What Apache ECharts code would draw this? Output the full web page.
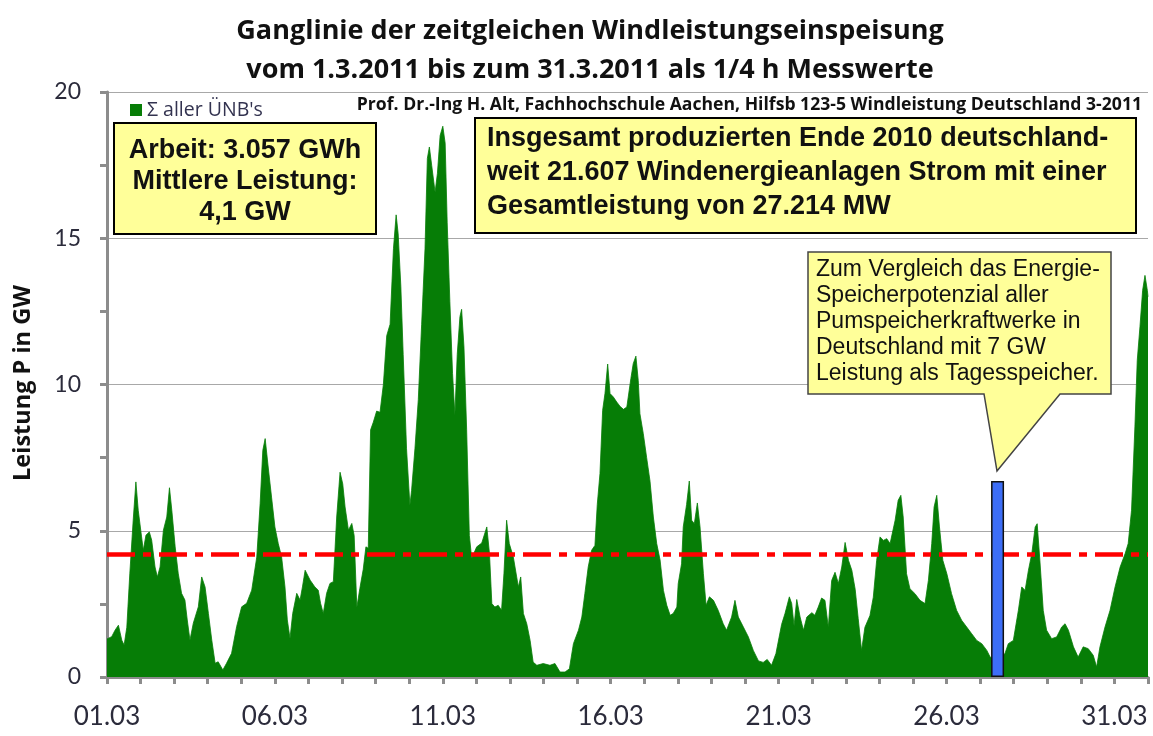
<!DOCTYPE html>
<html>
<head>
<meta charset="utf-8">
<title>Windleistung Maerz 2011</title>
<script src="https://cdn.jsdelivr.net/npm/echarts@6/dist/echarts.min.js"></script>
<style>
  html, body { margin: 0; padding: 0; background: #fff; }
  #chart { width: 1153px; height: 736px; }
</style>
</head>
<body>
<div id="chart"></div>
<script>
// Zeitpunkte in Tagen ab 01.03. 0:00, Leistung in GW
var windSamples = [
  [0, 1.3], [0.14, 1.38], [0.24, 1.6], [0.34, 1.77], [0.44, 1.26], [0.51, 1.09], [0.59, 1.7],
  [0.68, 3.55], [0.78, 5.36], [0.86, 6.67], [0.93, 5.7], [1.03, 4.79], [1.08, 4.33], [1.16, 4.85],
  [1.26, 4.96], [1.33, 4.68], [1.43, 3.76], [1.50, 3.42], [1.58, 3.76], [1.68, 5.02], [1.78, 5.47],
  [1.86, 6.47], [1.93, 5.7], [2.03, 4.45], [2.12, 3.55], [2.22, 2.86], [2.32, 2.63], [2.39, 1.95],
  [2.47, 1.26], [2.57, 1.84], [2.72, 2.4], [2.82, 3.42], [2.92, 3.08], [3.02, 2.17], [3.12, 1.26],
  [3.22, 0.47], [3.31, 0.52], [3.45, 0.24], [3.56, 0.47], [3.71, 0.81], [3.86, 1.72], [4.01, 2.4],
  [4.16, 2.52], [4.31, 2.97], [4.46, 4.1], [4.56, 5.93], [4.64, 7.75], [4.71, 8.15], [4.80, 7.18],
  [4.90, 6.15], [5.00, 5.13], [5.10, 4.56], [5.20, 4.1], [5.30, 3.08], [5.37, 1.95], [5.45, 1.32],
  [5.53, 2.17], [5.65, 2.86], [5.75, 2.63], [5.82, 3.08], [5.90, 3.65], [6.05, 3.31], [6.19, 3.08],
  [6.29, 2.97], [6.36, 2.52], [6.44, 2.17], [6.54, 2.86], [6.64, 3.2], [6.74, 3.26], [6.84, 5.47],
  [6.94, 7.0], [7.02, 6.6], [7.09, 5.81], [7.19, 5.02], [7.29, 5.25], [7.36, 4.84], [7.44, 2.38],
  [7.53, 3.03], [7.63, 3.68], [7.71, 4.45], [7.78, 4.4], [7.85, 8.45], [7.93, 8.71], [8.03, 9.09],
  [8.13, 9.05], [8.23, 10.0], [8.33, 11.67], [8.43, 12.06], [8.53, 14.64], [8.61, 15.8], [8.67, 15.16],
  [8.75, 13.36], [8.82, 11.03], [8.92, 7.8], [9.02, 5.87], [9.07, 6.38], [9.17, 7.8], [9.27, 9.48],
  [9.37, 12.06], [9.47, 14.64], [9.54, 17.73], [9.60, 18.12], [9.67, 17.48], [9.77, 16.57], [9.84, 17.22],
  [9.92, 18.51], [10.00, 18.83], [10.07, 18.25], [10.13, 15.55], [10.21, 12.84], [10.29, 10.38],
  [10.36, 8.96], [10.43, 11.03], [10.51, 12.32], [10.56, 12.57], [10.63, 11.28], [10.71, 8.45],
  [10.79, 4.84], [10.86, 4.06], [11.01, 4.45], [11.16, 4.58], [11.31, 5.13], [11.39, 4.22], [11.46, 2.51],
  [11.55, 2.39], [11.65, 2.45], [11.75, 2.28], [11.82, 3.53], [11.90, 5.36], [11.98, 4.56], [12.10, 4.1],
  [12.25, 3.08], [12.32, 3.42], [12.40, 2.17], [12.50, 1.82], [12.60, 1.25], [12.69, 0.51], [12.80, 0.4],
  [12.99, 0.46], [13.19, 0.4], [13.34, 0.46], [13.49, 0.17], [13.64, 0.17], [13.77, 0.28], [13.89, 1.14],
  [14.04, 1.6], [14.14, 2.05], [14.23, 2.85], [14.33, 3.76], [14.43, 4.33], [14.53, 4.5], [14.60, 5.9],
  [14.68, 6.95], [14.76, 9.12], [14.83, 9.7], [14.91, 10.7], [14.98, 9.69], [15.08, 9.57], [15.18, 9.4],
  [15.28, 9.25], [15.38, 9.15], [15.48, 9.23], [15.52, 9.29], [15.60, 10.2], [15.67, 10.71], [15.75, 10.97],
  [15.82, 10.14], [15.87, 9.0], [15.97, 8.32], [16.07, 7.5], [16.17, 6.7], [16.27, 5.47], [16.37, 4.56],
  [16.47, 4.0], [16.57, 2.96], [16.67, 2.45], [16.77, 2.11], [16.86, 2.17], [16.97, 2.39], [17.01, 3.19],
  [17.11, 3.87], [17.16, 5.13], [17.26, 5.9], [17.34, 6.7], [17.41, 5.36], [17.49, 5.24], [17.58, 5.95],
  [17.66, 5.13], [17.76, 3.53], [17.84, 2.45], [17.94, 2.74], [18.06, 2.62], [18.20, 2.28], [18.35, 1.82],
  [18.45, 1.6], [18.60, 2.05], [18.70, 2.62], [18.80, 2.05], [18.95, 1.71], [19.10, 1.37], [19.25, 0.9],
  [19.40, 0.55], [19.54, 0.5], [19.66, 0.6], [19.79, 0.4], [19.92, 0.8], [20.09, 1.8], [20.19, 2.17],
  [20.32, 2.74], [20.39, 2.51], [20.46, 1.75], [20.54, 2.65], [20.64, 2.05], [20.74, 1.6], [20.84, 2.05],
  [20.99, 2.2], [21.08, 2.11], [21.18, 2.39], [21.28, 2.7], [21.38, 2.62], [21.48, 1.7], [21.58, 3.3],
  [21.68, 3.58], [21.78, 3.2], [21.88, 3.76], [21.98, 4.6], [22.08, 3.99], [22.18, 3.65], [22.28, 3.0],
  [22.37, 2.0], [22.47, 0.91], [22.57, 1.7], [22.72, 2.1], [22.82, 2.73], [22.92, 3.99], [23.02, 4.79],
  [23.12, 4.67], [23.22, 4.73], [23.32, 4.56], [23.37, 4.62], [23.47, 5.36], [23.56, 6.04], [23.64, 6.21],
  [23.71, 5.47], [23.81, 3.53], [23.91, 3.02], [24.06, 2.85], [24.21, 2.62], [24.36, 2.51], [24.46, 3.3],
  [24.56, 4.56], [24.63, 5.81], [24.71, 6.21], [24.79, 5.13], [24.89, 3.99], [25.01, 3.53], [25.15, 2.85],
  [25.30, 2.28], [25.45, 1.94], [25.60, 1.71], [25.75, 1.48], [25.90, 1.25], [26.05, 1.14], [26.20, 0.91],
  [26.30, 0.68], [26.42, 0.6], [26.60, 0.65], [26.74, 0.8], [26.84, 1.14], [26.99, 1.25], [27.14, 2.28],
  [27.24, 3.08], [27.34, 2.96], [27.44, 3.65], [27.54, 4.22], [27.64, 5.13], [27.70, 5.24], [27.78, 3.99],
  [27.88, 2.28], [27.98, 1.6], [28.13, 1.31], [28.28, 1.37], [28.43, 1.71], [28.53, 1.82], [28.63, 1.6],
  [28.78, 1.03], [28.92, 0.68], [29.07, 1.03], [29.22, 0.97], [29.37, 0.74], [29.47, 0.34], [29.57, 1.03],
  [29.72, 1.71], [29.87, 2.28], [30.02, 3.08], [30.17, 3.76], [30.32, 4.22], [30.41, 4.56], [30.51, 5.7],
  [30.61, 8.55], [30.68, 10.83], [30.76, 11.97], [30.84, 13.22], [30.91, 13.73], [30.98, 13.22], [31.0, 13.0]
];

var seriesName = "\u03a3 aller \u00dcNB's";
var meanLineGW = 4.2;           // rote Strich-Punkt-Linie
var storageDay = 26.52;         // blauer Balken: Pumpspeicher
var storageGW = 6.7;

var labelDays = [0, 5, 10, 15, 20, 25, 30];
var dayLabels = ['01.03', '06.03', '11.03', '16.03', '21.03', '26.03', '31.03'];

var titleLines = [
  'Ganglinie der zeitgleichen Windleistungseinspeisung',
  'vom 1.3.2011 bis zum 31.3.2011 als 1/4 h Messwerte'
];
var creditText = 'Prof. Dr.-Ing H. Alt, Fachhochschule Aachen, Hilfsb 123-5 Windleistung Deutschland 3-2011';
var box1Lines = ['Arbeit: 3.057 GWh', 'Mittlere Leistung:', '4,1 GW'];
var box2Lines = [
  'Insgesamt produzierten Ende 2010 deutschland-',
  'weit 21.607 Windenergieanlagen Strom mit einer',
  'Gesamtleistung von 27.214 MW'
];
var calloutLines = [
  'Zum Vergleich das Energie-',
  'Speicherpotenzial aller',
  'Pumspeicherkraftwerke in',
  'Deutschland mit 7 GW',
  'Leistung als Tagesspeicher.'
];

var axisGray = '#8c8c8c';
var windGreen = '#067d06';

function textEl(txt, x, y, font, align, extra) {
  var el = {
    type: 'text', z: 100,
    style: { text: txt, x: x, y: y, font: font, fill: '#111', align: align || 'left', verticalAlign: 'middle' }
  };
  if (extra) { for (var k in extra) el[k] = extra[k]; }
  return el;
}

function buildGraphics() {
  var g = [];
  g.push(textEl(titleLines[0], 590, 31, 'bold 27px "Open Sans"', 'center'));
  g.push(textEl(titleLines[1], 590, 70, 'bold 27px "Open Sans"', 'center'));
  g.push(textEl(creditText, 1142, 105, 'bold 17.6px "Open Sans"', 'right'));
  g.push(textEl('Leistung P in GW', 0, 0, 'bold 23.5px "Open Sans"', 'center', { x: 23, y: 383, rotation: Math.PI / 2 }));

  // Legende
  g.push({ type: 'rect', z: 100, shape: { x: 130, y: 104, width: 12, height: 12 }, style: { fill: windGreen } });
  g.push(textEl(seriesName, 147, 110, '19.5px "Open Sans"', 'left'));
  g[g.length - 1].style.fill = '#333350';

  g.push({ type: 'rect', z: 90, shape: { x: 114, y: 123, width: 262, height: 111 },
    style: { fill: '#ffff99', stroke: '#000', lineWidth: 2 } });
  box1Lines.forEach(function (t, i) {
    g.push(textEl(t, 245, 151 + i * 31, 'bold 27px "Liberation Sans"', 'center'));
  });

  g.push({ type: 'rect', z: 90, shape: { x: 475, y: 118, width: 661, height: 115 },
    style: { fill: '#ffff99', stroke: '#000', lineWidth: 2 } });
  box2Lines.forEach(function (t, i) {
    g.push(textEl(t, 487, 139 + i * 34, 'bold 27px "Liberation Sans"', 'left'));
  });

  g.push({ type: 'polygon', z: 90,
    shape: { points: [[808, 252], [1111, 252], [1111, 394], [1060, 394], [997, 471], [984, 394], [808, 394]] },
    style: { fill: '#ffff99', stroke: '#444', lineWidth: 1.5 } });
  calloutLines.forEach(function (t, i) {
    g.push(textEl(t, 816, 270 + i * 26, '23px "Liberation Sans"', 'left'));
  });
  return g;
}

var chart = echarts.init(document.getElementById('chart'));
chart.setOption({
  animation: false,
  backgroundColor: '#fff',
  grid: { left: 107, right: 5, top: 92, bottom: 59, containLabel: false },
  xAxis: {
    type: 'value', min: 0, max: 31, interval: 1,
    axisLine: { lineStyle: { color: axisGray, width: 3 } },
    axisTick: { show: true, length: 7, lineStyle: { color: axisGray, width: 3 } },
    axisLabel: {
      margin: 27, fontFamily: 'Lato', fontSize: 26, color: '#2b2b3b',
      formatter: function (v) {
        var i = labelDays.indexOf(v);
        return i >= 0 ? dayLabels[i] : '';
      }
    },
    splitLine: { show: false }
  },
  yAxis: {
    type: 'value', min: 0, max: 20, interval: 5,
    axisLine: { show: true, lineStyle: { color: axisGray, width: 3 } },
    axisTick: { show: true, length: 7, lineStyle: { color: axisGray, width: 3 } },
    minorTick: { show: true, splitNumber: 2, length: 7, lineStyle: { color: axisGray, width: 3 } },
    axisLabel: { margin: 26, fontFamily: 'Lato', fontSize: 23, color: '#2b2b3b' },
    splitLine: { lineStyle: { color: '#a8a8a8', width: 1.2 } }
  },
  series: [
    {
      name: seriesName, type: 'line', data: windSamples, showSymbol: false, symbol: 'none',
      itemStyle: { color: windGreen },
      lineStyle: { color: windGreen, width: 0.8 },
      areaStyle: { color: windGreen, opacity: 1 },
      markLine: {
        silent: true, symbol: ['none', 'none'], label: { show: false },
        lineStyle: { color: '#ff0000', width: 4.5, type: [28, 8, 8, 8] },
        data: [{ yAxis: meanLineGW }]
      },
      z: 2
    },
    {
      name: 'Pumpspeicher', type: 'bar', data: [[storageDay, storageGW]], barWidth: 13,
      itemStyle: { color: '#3d6ef7', borderColor: '#111', borderWidth: 1.5 },
      z: 5
    }
  ],
  graphic: buildGraphics()
});
</script>
</body>
</html>
